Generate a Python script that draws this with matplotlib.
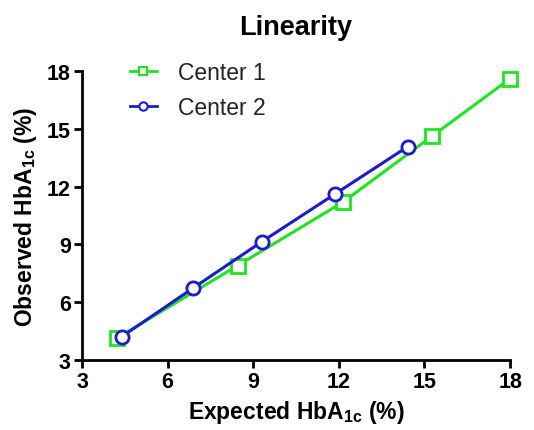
import matplotlib
matplotlib.use("Agg")
import matplotlib.pyplot as plt
from matplotlib.lines import Line2D

plt.rcParams['font.family'] = ['Liberation Sans', 'DejaVu Sans']
plt.rcParams['mathtext.fontset'] = 'custom'
plt.rcParams['mathtext.rm'] = 'Liberation Sans'
plt.rcParams['mathtext.bf'] = 'Liberation Sans:bold'

# Center 1 (green squares)
center1_expected = [4.23, 8.45, 12.15, 15.25, 18.0]
center1_observed = [4.14, 7.9, 11.2, 14.6, 17.6]

# Center 2 (blue circles)
center2_expected = [4.39, 6.88, 9.3, 11.85, 14.42]
center2_observed = [4.21, 6.72, 9.14, 11.6, 14.08]

ticks = [3, 6, 9, 12, 15, 18]

green = '#1ee61e'
blue = '#1a1ad6'

fig = plt.figure(figsize=(5.34, 4.31), dpi=100)
ax = fig.add_axes([0.1536, 0.1624, 0.8016, 0.6706])

ax.plot(center1_expected, center1_observed, color=green, lw=2.2, marker='s',
        ms=9.5, mfc='white', mec=green, mew=2, clip_on=False, zorder=3)
ax.plot(center2_expected, center2_observed, color=blue, lw=2.2, marker='o',
        ms=9.5, mfc='white', mec=blue, mew=2, clip_on=False, zorder=4)

ax.set_xlim(3, 18)
ax.set_ylim(3, 18)
ax.set_xticks(ticks)
ax.set_yticks(ticks)
ax.set_xticklabels([str(t) for t in ticks], fontsize=15.5, fontweight='bold')
ax.set_yticklabels([str(t) for t in ticks], fontsize=15.5, fontweight='bold')
ax.tick_params(direction='out', length=6, width=2, pad=2)

for side in ['top', 'right']:
    ax.spines[side].set_visible(False)
for side in ['left', 'bottom']:
    ax.spines[side].set_linewidth(2)

ax.set_xlabel(r'Expected HbA$_{\mathbf{1c}}$ (%)', fontsize=16.5, fontweight='bold', labelpad=4)
ax.set_ylabel(r'Observed HbA$_{\mathbf{1c}}$ (%)', fontsize=16.5, fontweight='bold', labelpad=6)
fig.text(0.554, 0.935, 'Linearity', fontsize=19.5, fontweight='bold', ha='center', va='center')

handles = [
    Line2D([], [], color=green, lw=2, marker='s', ms=6, mfc='white', mec=green, mew=1.5),
    Line2D([], [], color=blue, lw=2, marker='o', ms=6, mfc='white', mec=blue, mew=1.5),
]
leg = ax.legend(handles, ['Center 1', 'Center 2'], loc='upper left',
                bbox_to_anchor=(0.063, 1.105), frameon=False, fontsize=16.5,
                handlelength=1.2, handletextpad=0.9, labelspacing=0.5)
for txt in leg.get_texts():
    txt.set_color('#222222')

fig.savefig('out.png', dpi=100)
